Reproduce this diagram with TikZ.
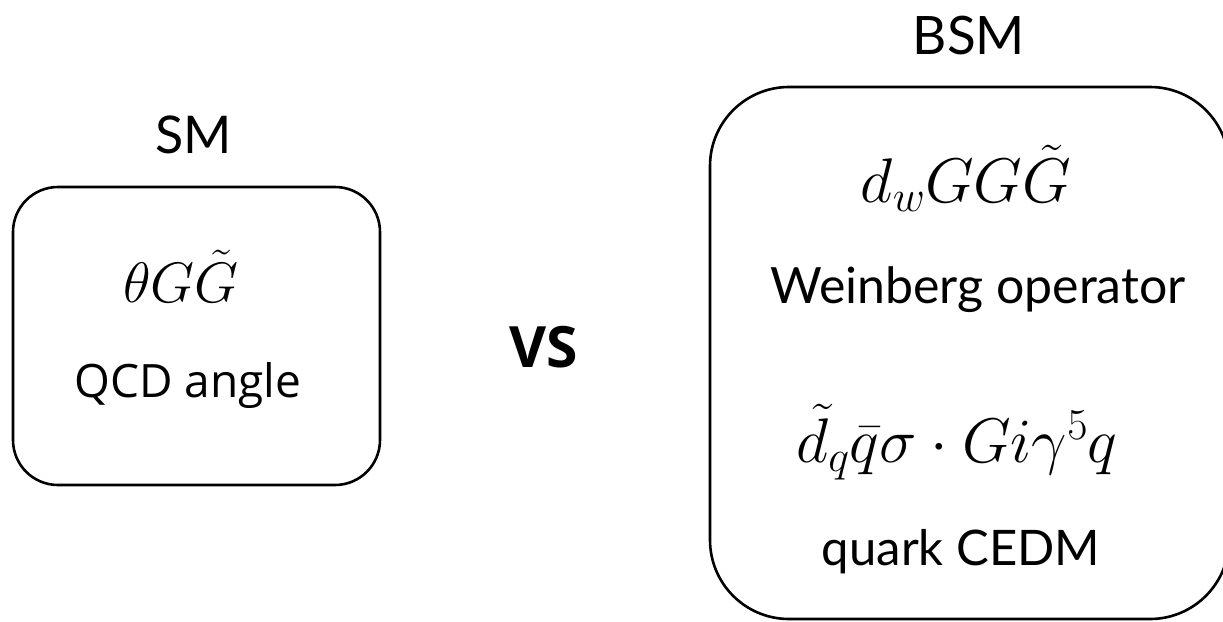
\RequirePackage{fix-cm}
\documentclass[tikz,border=0pt]{standalone}
\usepackage{fontspec}
\newfontfamily\gill{Lato}
\newfontfamily\seg{Open Sans}
\begin{document}
\begin{tikzpicture}[x=1pt,y=-1pt,
  boxline/.style={draw=black, line width=2.6pt},
  gtext/.style={anchor=base, inner sep=0pt, font=\gill},
  mtext/.style={anchor=base, inner sep=0pt}]
\useasboundingbox (0,0) rectangle (1223,621);
% boxes
\draw[boxline, rounded corners=45pt] (13,187) rectangle (380,485);
\draw[boxline, rounded corners=79pt] (710,87) rectangle (1229,619);
% labels
\node[gtext] (sm) at (194,153) {\fontsize{52}{60}\selectfont SM};
\node[gtext] (bsm) at (969,54) {\fontsize{53}{60}\selectfont BSM};
\node[mtext] (theta) at (181,302) {\fontsize{57}{60}\selectfont $\theta G\tilde{G}$};
\node[mtext, font=\seg] (qcd) at (188,397) {\fontsize{46}{50}\selectfont QCD angle};
\node[mtext, font=\seg\bfseries] (vs) at (544,367) {\fontsize{57}{60}\selectfont VS};
\node[mtext] (dw) at (966,202) {\fontsize{63}{70}\selectfont $d_w G G\tilde{G}$};
\node[gtext] (wein) at (978,303) {\fontsize{50}{60}\selectfont Weinberg operator};
\node[mtext] (cedm) at (957,462) {\fontsize{63}{70}\selectfont $\tilde{d}_q \bar{q}\sigma\cdot G i\gamma^5 q$};
\node[gtext] (quark) at (961,565) {\fontsize{49}{60}\selectfont quark CEDM};
\end{tikzpicture}
\end{document}
